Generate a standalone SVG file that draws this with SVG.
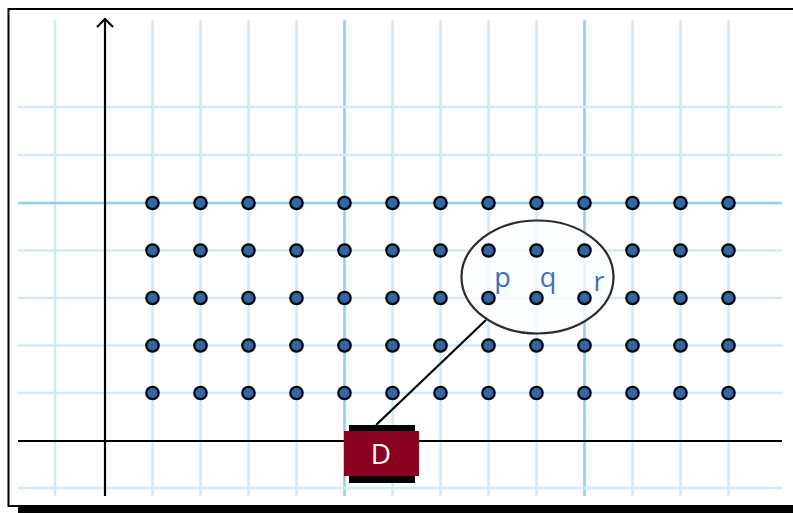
<svg xmlns="http://www.w3.org/2000/svg" width="793" height="513" viewBox="0 0 793 513">
<style>
.g{stroke:#cfeafb;stroke-width:2.6;fill:none}
.gd{stroke:#8fd0f6;stroke-width:2.6;fill:none}
.ax{stroke:#000;stroke-width:2.2;fill:none}
.dot{fill:#2f67aa;stroke:#000;stroke-width:2.2}
.lbl{font-family:"Open Sans","Liberation Sans",sans-serif;font-size:27px;fill:#3b72b3}
</style>
<rect x="0" y="0" width="793" height="513" fill="#fff"/>
<rect x="8.5" y="9" width="800" height="497" fill="#fff" stroke="#000" stroke-width="2"/>
<rect x="18" y="507" width="775" height="6" fill="#000"/>
<g id="grid">
<path class="g" d="M55 20V496M152.5 20V496M200.5 20V496M248.5 20V496M296.5 20V496M392.5 20V496M440.5 20V496M488.5 20V496M536.5 20V496M632.5 20V496M680.5 20V496M728.5 20V496"/>
<path class="gd" d="M344.5 20V496M584.5 20V496"/>
<path class="g" d="M18 107H782M18 155H782M18 250.5H782M18 298H782M18 345.5H782M18 393H782M18 488H782"/>
<path class="gd" d="M18 203H782"/>
</g>
<g id="axes">
<path class="ax" d="M18 441H782"/>
<path class="ax" d="M105 496V19M97 27L105 19L113 27"/>
</g>
<g id="ellipse-node">
<ellipse cx="537.5" cy="277" rx="76" ry="56.5" fill="#fbfdff" fill-opacity="0.8" stroke="#2b2b2b" stroke-width="2.2"/>
</g>
<g id="dots">
<g id="row1"><circle class="dot" cx="152.5" cy="203" r="6.2"/><circle class="dot" cx="200.5" cy="203" r="6.2"/><circle class="dot" cx="248.5" cy="203" r="6.2"/><circle class="dot" cx="296.5" cy="203" r="6.2"/><circle class="dot" cx="344.5" cy="203" r="6.2"/><circle class="dot" cx="392.5" cy="203" r="6.2"/><circle class="dot" cx="440.5" cy="203" r="6.2"/><circle class="dot" cx="488.5" cy="203" r="6.2"/><circle class="dot" cx="536.5" cy="203" r="6.2"/><circle class="dot" cx="584.5" cy="203" r="6.2"/><circle class="dot" cx="632.5" cy="203" r="6.2"/><circle class="dot" cx="680.5" cy="203" r="6.2"/><circle class="dot" cx="728.5" cy="203" r="6.2"/></g>
<g id="row2"><circle class="dot" cx="152.5" cy="250.5" r="6.2"/><circle class="dot" cx="200.5" cy="250.5" r="6.2"/><circle class="dot" cx="248.5" cy="250.5" r="6.2"/><circle class="dot" cx="296.5" cy="250.5" r="6.2"/><circle class="dot" cx="344.5" cy="250.5" r="6.2"/><circle class="dot" cx="392.5" cy="250.5" r="6.2"/><circle class="dot" cx="440.5" cy="250.5" r="6.2"/><circle class="dot" cx="488.5" cy="250.5" r="6.2"/><circle class="dot" cx="536.5" cy="250.5" r="6.2"/><circle class="dot" cx="584.5" cy="250.5" r="6.2"/><circle class="dot" cx="632.5" cy="250.5" r="6.2"/><circle class="dot" cx="680.5" cy="250.5" r="6.2"/><circle class="dot" cx="728.5" cy="250.5" r="6.2"/></g>
<g id="row3"><circle class="dot" cx="152.5" cy="298" r="6.2"/><circle class="dot" cx="200.5" cy="298" r="6.2"/><circle class="dot" cx="248.5" cy="298" r="6.2"/><circle class="dot" cx="296.5" cy="298" r="6.2"/><circle class="dot" cx="344.5" cy="298" r="6.2"/><circle class="dot" cx="392.5" cy="298" r="6.2"/><circle class="dot" cx="440.5" cy="298" r="6.2"/><circle class="dot" cx="488.5" cy="298" r="6.2"/><circle class="dot" cx="536.5" cy="298" r="6.2"/><circle class="dot" cx="584.5" cy="298" r="6.2"/><circle class="dot" cx="632.5" cy="298" r="6.2"/><circle class="dot" cx="680.5" cy="298" r="6.2"/><circle class="dot" cx="728.5" cy="298" r="6.2"/></g>
<g id="row4"><circle class="dot" cx="152.5" cy="345.5" r="6.2"/><circle class="dot" cx="200.5" cy="345.5" r="6.2"/><circle class="dot" cx="248.5" cy="345.5" r="6.2"/><circle class="dot" cx="296.5" cy="345.5" r="6.2"/><circle class="dot" cx="344.5" cy="345.5" r="6.2"/><circle class="dot" cx="392.5" cy="345.5" r="6.2"/><circle class="dot" cx="440.5" cy="345.5" r="6.2"/><circle class="dot" cx="488.5" cy="345.5" r="6.2"/><circle class="dot" cx="536.5" cy="345.5" r="6.2"/><circle class="dot" cx="584.5" cy="345.5" r="6.2"/><circle class="dot" cx="632.5" cy="345.5" r="6.2"/><circle class="dot" cx="680.5" cy="345.5" r="6.2"/><circle class="dot" cx="728.5" cy="345.5" r="6.2"/></g>
<g id="row5"><circle class="dot" cx="152.5" cy="393" r="6.2"/><circle class="dot" cx="200.5" cy="393" r="6.2"/><circle class="dot" cx="248.5" cy="393" r="6.2"/><circle class="dot" cx="296.5" cy="393" r="6.2"/><circle class="dot" cx="344.5" cy="393" r="6.2"/><circle class="dot" cx="392.5" cy="393" r="6.2"/><circle class="dot" cx="440.5" cy="393" r="6.2"/><circle class="dot" cx="488.5" cy="393" r="6.2"/><circle class="dot" cx="536.5" cy="393" r="6.2"/><circle class="dot" cx="584.5" cy="393" r="6.2"/><circle class="dot" cx="632.5" cy="393" r="6.2"/><circle class="dot" cx="680.5" cy="393" r="6.2"/><circle class="dot" cx="728.5" cy="393" r="6.2"/></g>
</g>
<g id="labels">
<text class="lbl" x="502.5" y="287" text-anchor="middle">p</text>
<text class="lbl" x="548" y="287" text-anchor="middle">q</text>
<text class="lbl" x="599" y="291" text-anchor="middle">r</text>
</g>
<g id="connectors">
<path d="M376 425L486 320" stroke="#000" stroke-width="2.2" fill="none"/>
</g>
<g id="node-D">
<rect x="349" y="425" width="66" height="58" fill="#000"/>
<rect x="344" y="431" width="75" height="45" fill="#8a0020"/>
<text x="381" y="464" text-anchor="middle" font-family="Open Sans, Liberation Sans, sans-serif" font-size="28" fill="#fff">D</text>
</g>
</svg>
